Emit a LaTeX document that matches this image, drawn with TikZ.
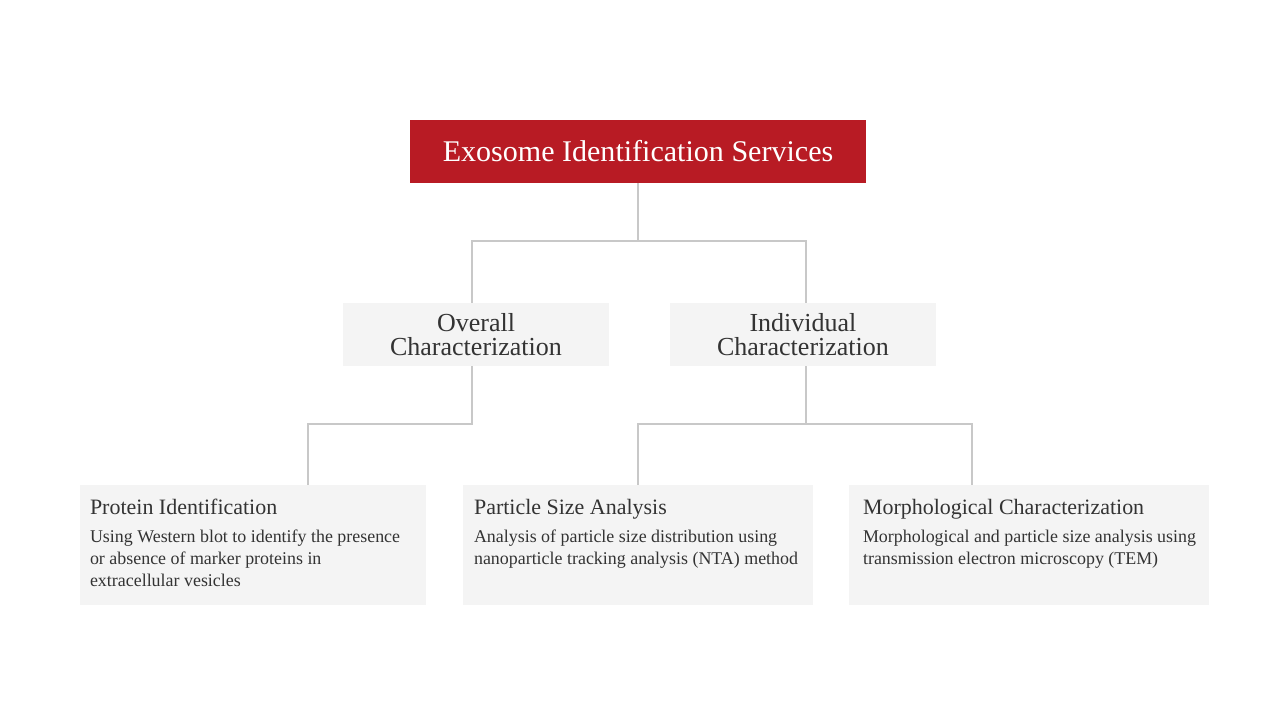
\documentclass[tikz,border=0pt]{standalone}
\usepackage{fontspec}
\setmainfont{Liberation Serif}
\usetikzlibrary{
    calc,
    positioning
}
\definecolor{ink}{RGB}{51,51,51}
\definecolor{brandred}{RGB}{184,27,36}
\definecolor{panel}{RGB}{244,244,244}
\definecolor{linkgray}{RGB}{200,200,200}
\tikzset{
    box/.style={
        rectangle,
        inner sep=0pt,
        text=ink
    },
    topbox/.style={
        box,
        fill=brandred,
        text=white,
        minimum width=9.14cm,
        minimum height=1.26cm,
        font=\fontsize{17.1}{20}\selectfont
    },
    midbox/.style={
        box,
        fill=panel,
        minimum width=5.32cm,
        minimum height=1.26cm,
        align=center,
        font=\fontsize{14.8}{13.4}\selectfont
    },
    leafbox/.style={
        box,
        fill=panel,
        minimum height=2.4cm
    },
    leafhead/.style={
        text=ink,
        inner sep=0pt,
        anchor=base west,
        font=\fontsize{12.5}{15}\selectfont
    },
    leafdesc/.style={
        text=ink,
        inner sep=0pt,
        anchor=north west,
        align=left,
        font=\fontsize{10.2}{12.5}\selectfont
    },
    link/.style={
        draw=linkgray,
        line width=1.1pt
    }
}

\begin{document}
\begin{tikzpicture}[x=0.02cm, y=-0.02cm]
    \fill[white] (0,0) rectangle (1280,720);

    % Root
    \node[topbox] (root) at (638, 151.5) {Exosome Identification Services};

    % Level 2
    \node[midbox] (overall) at (476, 334.5) {Overall\\Characterization};
    \node[midbox] (indiv) at (803, 334.5) {Individual\\Characterization};

    % Level 3
    \node[leafbox, minimum width=6.92cm] (prot) at (253, 545) {};
    \node[leafbox, minimum width=7.0cm] (size) at (638, 545) {};
    \node[leafbox, minimum width=7.2cm] (morph) at (1029, 545) {};

    \node[leafhead] (protT) at ($(prot.north west)+(10,30)$) {Protein Identification};
    \node[leafdesc] (protD) at ($(prot.north west)+(10,45)$)
        {Using Western blot to identify the presence\\or absence of marker proteins in\\extracellular vesicles};

    \node[leafhead] (sizeT) at ($(size.north west)+(11,30)$) {Particle Size Analysis};
    \node[leafdesc] (sizeD) at ($(size.north west)+(11,45)$)
        {Analysis of particle size distribution using\\nanoparticle tracking analysis (NTA) method};

    \node[leafhead] (morphT) at ($(morph.north west)+(14,30)$) {Morphological Characterization};
    \node[leafdesc] (morphD) at ($(morph.north west)+(14,45)$)
        {Morphological and particle size analysis using\\transmission electron microscopy (TEM)};

    % Connectors
    \coordinate (overIn) at ($(overall.north)+(-4,0)$);
    \coordinate (overOut) at ($(overall.south)+(-4,0)$);
    \coordinate (indivIn) at ($(indiv.north)+(3,0)$);
    \coordinate (indivOut) at ($(indiv.south)+(3,0)$);
    \coordinate (j1) at ($(root.south)+(0,58)$);
    \draw[link] (root.south) -- (j1);
    \draw[link] (overIn) |- (j1) -| (indivIn);

    \coordinate (protIn) at ($(prot.north west)+(228,0)$);
    \coordinate (morphIn) at ($(morph.north west)+(123,0)$);
    \coordinate (j2) at ($(overOut)+(0,58)$);
    \coordinate (j3) at ($(indivOut)+(0,58)$);
    \draw[link] (overOut) -- (j2) -| (protIn);
    \draw[link] (indivOut) -- (j3);
    \draw[link] (size.north) |- (j3) -| (morphIn);
\end{tikzpicture}
\end{document}
